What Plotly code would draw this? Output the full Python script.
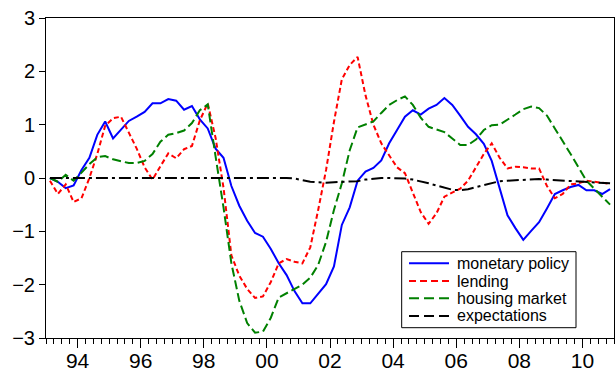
import plotly.graph_objects as go

# Quarterly observations, 1993Q1 - 2010Q4
start_year = 1993
n_quarters = 72

monetary_policy = [
    0.00, -0.07, -0.19, -0.14, 0.15, 0.38, 0.81, 1.06,
    0.74, 0.90, 1.07, 1.15, 1.24, 1.40, 1.40, 1.48,
    1.45, 1.28, 1.35, 1.10, 0.93, 0.55, 0.38, -0.15,
    -0.52, -0.80, -1.03, -1.10, -1.33, -1.60, -1.82, -2.12,
    -2.35, -2.35, -2.16, -1.99, -1.66, -0.88, -0.55, -0.05,
    0.12, 0.19, 0.33, 0.65, 0.90, 1.15, 1.27, 1.19,
    1.30, 1.37, 1.50, 1.37, 1.17, 0.96, 0.82, 0.64,
    0.32, -0.20, -0.70, -0.94, -1.16, -0.99, -0.83, -0.57,
    -0.30, -0.23, -0.17, -0.13, -0.23, -0.23, -0.30, -0.21,
]

lending = [
    -0.05, -0.30, -0.12, -0.45, -0.38, 0.00, 0.45, 0.98,
    1.12, 1.15, 0.85, 0.55, 0.20, -0.03, 0.22, 0.46,
    0.37, 0.54, 0.60, 1.08, 1.40, 0.75, -0.18, -1.45,
    -1.83, -2.08, -2.25, -2.22, -1.95, -1.60, -1.52, -1.57,
    -1.60, -1.30, -0.60, 0.15, 1.05, 1.85, 2.12, 2.27,
    1.55, 1.00, 0.65, 0.43, 0.20, 0.09, -0.28, -0.64,
    -0.86, -0.66, -0.35, -0.28, -0.20, -0.05, 0.20, 0.45,
    0.65, 0.38, 0.18, 0.21, 0.20, 0.18, 0.18, -0.15,
    -0.38, -0.30, -0.12, -0.10, -0.05, -0.07, -0.10, -0.11,
]

housing_market = [
    0.00, -0.07, 0.06, -0.05, 0.10, 0.26, 0.39, 0.41,
    0.35, 0.32, 0.28, 0.28, 0.32, 0.45, 0.68, 0.81,
    0.84, 0.89, 1.03, 1.27, 1.38, 0.40, -0.55, -1.60,
    -2.30, -2.72, -2.90, -2.88, -2.62, -2.24, -2.16, -2.07,
    -2.00, -1.87, -1.63, -1.20, -0.60, -0.10, 0.52, 0.95,
    1.01, 1.06, 1.22, 1.37, 1.46, 1.53, 1.37, 1.13,
    0.96, 0.91, 0.86, 0.74, 0.62, 0.62, 0.72, 0.90,
    0.99, 1.00, 1.09, 1.19, 1.29, 1.34, 1.31, 1.17,
    0.93, 0.70, 0.45, 0.20, -0.05, -0.20, -0.35, -0.50,
]

expectations = [
    0.00, 0.00, 0.00, 0.00, 0.00, 0.00, 0.00, 0.00,
    0.00, 0.00, 0.00, 0.00, 0.00, 0.00, 0.00, 0.00,
    0.00, 0.00, 0.00, 0.00, 0.00, 0.00, 0.00, 0.00,
    0.00, 0.00, 0.00, 0.01, 0.01, 0.01, 0.00, -0.01,
    -0.04, -0.07, -0.08, -0.09, -0.08, -0.07, -0.07, -0.06,
    -0.03, -0.01, 0.00, 0.00, 0.00, -0.01, -0.03, -0.06,
    -0.10, -0.14, -0.18, -0.22, -0.23, -0.21, -0.17, -0.13,
    -0.09, -0.06, -0.05, -0.04, -0.03, -0.02, -0.02, -0.03,
    -0.04, -0.05, -0.06, -0.07, -0.08, -0.09, -0.10, -0.10,
]

tick_years = [1994, 1996, 1998, 2000, 2002, 2004, 2006, 2008, 2010]
tick_labels = ["94", "96", "98", "00", "02", "04", "06", "08", "10"]

# Each observation sits in the middle of its quarter
t = [start_year + (i + 0.5) / 4 for i in range(n_quarters)]

series = [
    ("monetary policy", monetary_policy, "#0000ff", "solid", "solid"),
    ("lending", lending, "#ff0000", "5px,3px", "7px,4px"),
    ("housing market", housing_market, "#008000", "9px,4px", "10px,5px"),
    ("expectations", expectations, "#000000", "12px,4px,3px,4px", "10px,5px"),
]

font_family = "Liberation Sans, Arial, sans-serif"

fig = go.Figure()
for name, vals, color, dash, _ in series:
    fig.add_trace(go.Scatter(
        x=t, y=vals, name=name, mode="lines",
        line=dict(color=color, width=2, dash=dash),
        showlegend=False,
    ))

# Compact boxed key in the lower right of the plot area
box_x0, box_x1 = 0.6262, 0.9331
box_y0, box_y1 = 0.0322, 0.2697
row_y = [0.2334, 0.1781, 0.1240, 0.0688]
sample_x0, sample_x1 = 0.6391, 0.7095
text_x = 0.7201

shapes = [dict(
    type="rect", xref="paper", yref="paper",
    x0=box_x0, x1=box_x1, y0=box_y0, y1=box_y1,
    line=dict(color="black", width=1), fillcolor="white", layer="above",
)]
annotations = []
for (name, _, color, _, key_dash), yy in zip(series, row_y):
    shapes.append(dict(
        type="line", xref="paper", yref="paper",
        x0=sample_x0, x1=sample_x1, y0=yy, y1=yy,
        line=dict(color=color, width=2, dash=key_dash), layer="above",
    ))
    annotations.append(dict(
        xref="paper", yref="paper", x=text_x, y=yy,
        xanchor="left", yanchor="middle", text=name, showarrow=False,
        font=dict(size=16, family=font_family, color="black"),
    ))

fig.update_layout(
    width=616, height=376,
    margin=dict(l=46, r=2, t=18, b=38, autoexpand=False),
    paper_bgcolor="white", plot_bgcolor="white",
    font=dict(family=font_family, color="black"),
    showlegend=False,
    shapes=shapes,
    annotations=annotations,
)

fig.update_xaxes(
    range=[start_year, start_year + n_quarters / 4],
    tickmode="array", tickvals=tick_years, ticktext=tick_labels,
    ticks="outside", ticklen=9, tickwidth=1, tickcolor="black",
    ticklabelstandoff=-5,
    minor=dict(dtick=0.25, tick0=start_year, ticks="outside", ticklen=5,
               tickwidth=1, tickcolor="black", showgrid=False),
    showline=True, linecolor="black", linewidth=1, mirror=True,
    showgrid=False, zeroline=False, automargin=False,
    tickfont=dict(size=21, family=font_family, color="black"),
)

fig.update_yaxes(
    range=[-3, 3], tickmode="linear", tick0=-3, dtick=1,
    ticks="outside", ticklen=6, tickwidth=1, tickcolor="black",
    showline=True, linecolor="black", linewidth=1, mirror=True,
    showgrid=False, zeroline=False, automargin=False,
    tickfont=dict(size=20, family=font_family, color="black"),
)

fig.write_html("out.html")
